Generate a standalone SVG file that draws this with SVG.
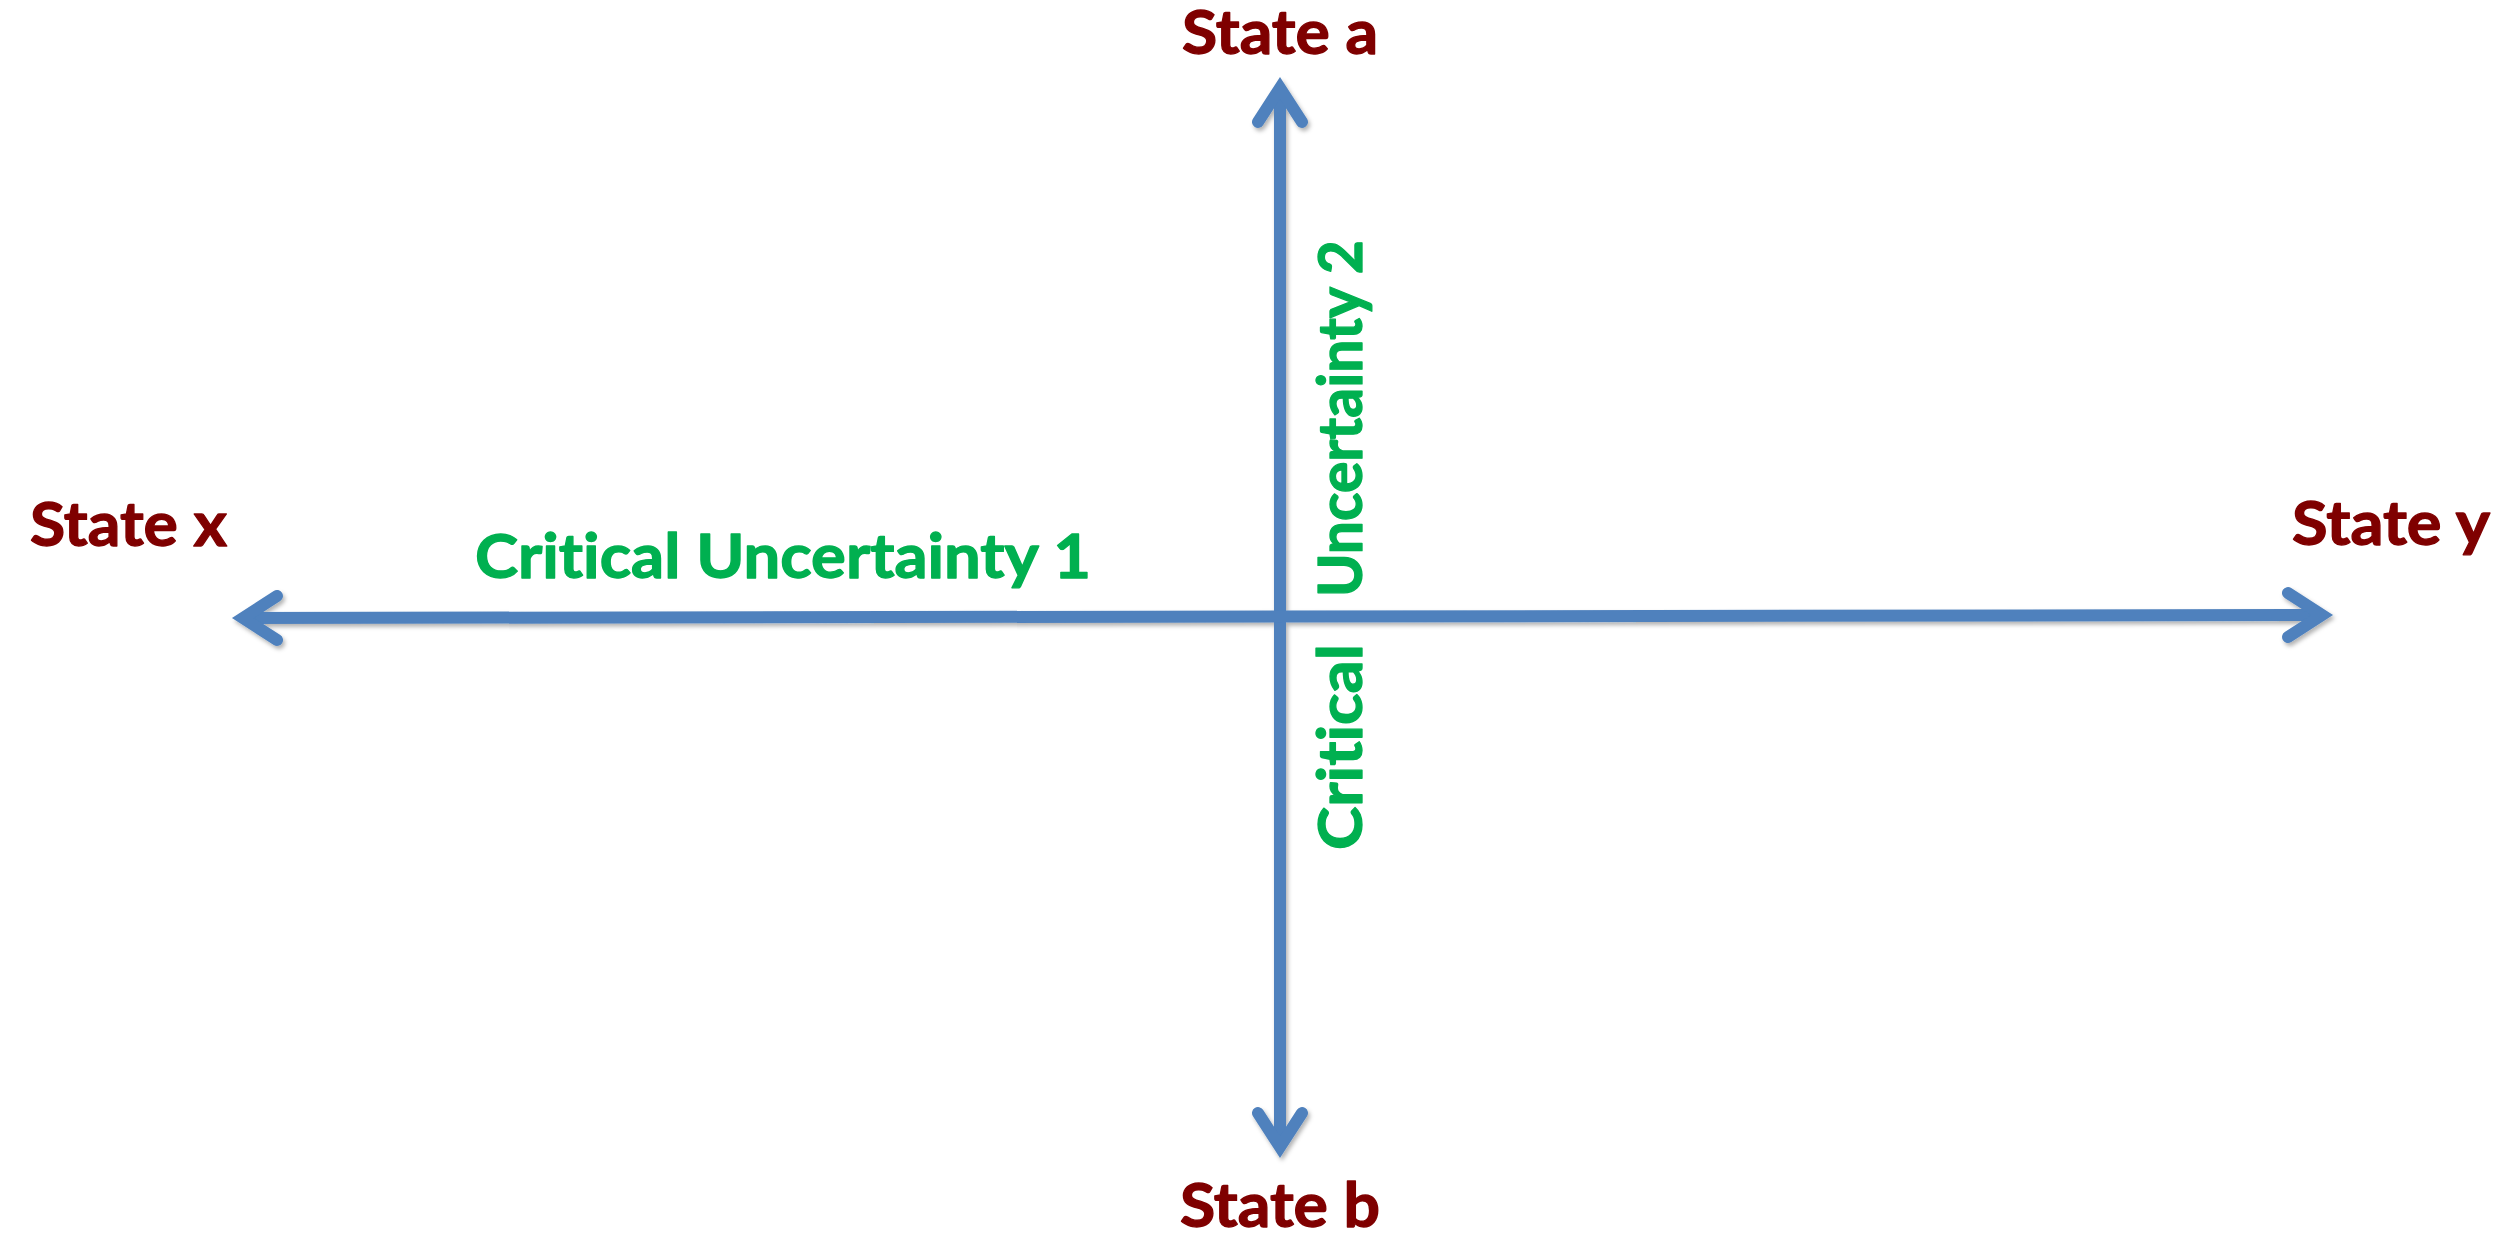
<svg xmlns="http://www.w3.org/2000/svg" width="2516" height="1236" viewBox="0 0 2516 1236">
<style>
text{font-family:Lato,"Open Sans","Liberation Sans",sans-serif;font-weight:bold;font-size:62px;font-variant-ligatures:none;font-feature-settings:"liga" 0,"clig" 0;stroke-width:1.3px;stroke-linejoin:round}
.state{fill:#7F0000;stroke:#7F0000}
.unc{fill:#00B050;stroke:#00B050}
.axis{stroke:#4F81BD;stroke-width:12;fill:none}
</style>
<defs>
<filter id="shadow" x="-5%" y="-5%" width="110%" height="110%">
<feDropShadow dx="2" dy="3" stdDeviation="2" flood-color="#000" flood-opacity="0.3"/>
</filter>
<marker id="chev" markerUnits="userSpaceOnUse" orient="auto-start-reverse" overflow="visible" markerWidth="1" markerHeight="1" refX="0" refY="0">
<path d="M-34,-22 L0,0 L-34,22" fill="none" stroke="#4F81BD" stroke-width="12" stroke-linecap="round" stroke-linejoin="miter"/>
</marker>
</defs>
<rect width="2516" height="1236" fill="#FFFFFF"/>
<g id="connectors" filter="url(#shadow)">
<line class="axis" x1="1280" y1="88" x2="1280" y2="1147" marker-start="url(#chev)" marker-end="url(#chev)"/>
<line class="axis" x1="243" y1="618" x2="2322" y2="615" marker-start="url(#chev)" marker-end="url(#chev)"/>
</g>
<g id="state-a"><text class="state" x="1280" y="54" text-anchor="middle" textLength="196" lengthAdjust="spacingAndGlyphs">State a</text></g>
<g id="state-b"><text class="state" x="1280" y="1227" text-anchor="middle" textLength="200" lengthAdjust="spacingAndGlyphs">State b</text></g>
<g id="state-x"><text class="state" x="30" y="546" textLength="197" lengthAdjust="spacingAndGlyphs">State x</text></g>
<g id="state-y"><text class="state" x="2292" y="545" textLength="198" lengthAdjust="spacingAndGlyphs">State y</text></g>
<g id="uncertainty-1"><text class="unc" x="475" y="578" textLength="616" lengthAdjust="spacingAndGlyphs">Critical Uncertainty 1</text></g>
<g id="uncertainty-2" transform="translate(1362,850) rotate(-90)">
<text class="unc" x="0" y="0" textLength="206" lengthAdjust="spacingAndGlyphs">Critical</text>
<text class="unc" x="253" y="0" textLength="357" lengthAdjust="spacingAndGlyphs">Uncertainty 2</text>
</g>
</svg>
